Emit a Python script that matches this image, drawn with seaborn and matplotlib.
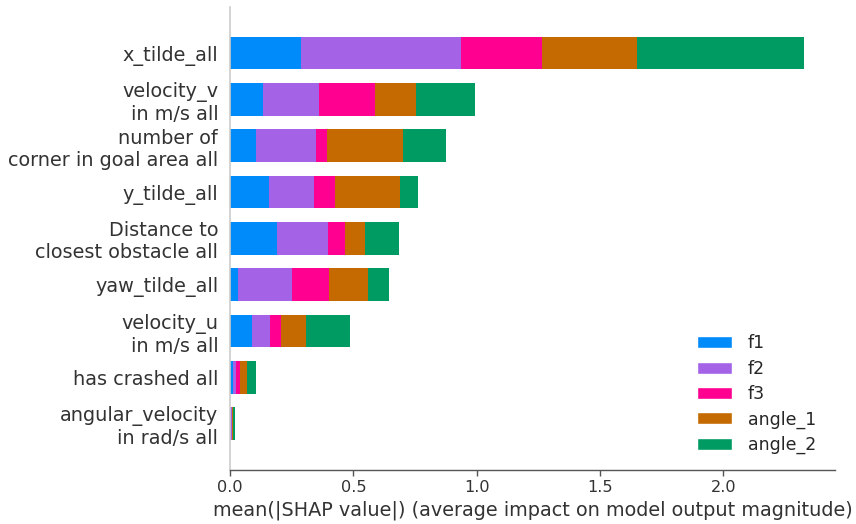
import numpy as np
import pandas as pd
import matplotlib
matplotlib.use("Agg")
import matplotlib.pyplot as plt
import seaborn as sns
from matplotlib.patches import Patch

features = [
    "x_tilde_all",
    "velocity_v\nin m/s all",
    "number of\ncorner in goal area all",
    "y_tilde_all",
    "Distance to\nclosest obstacle all",
    "yaw_tilde_all",
    "velocity_u\nin m/s all",
    "has crashed all",
    "angular_velocity\nin rad/s all",
]
outputs = ["f1", "f2", "f3", "angle_1", "angle_2"]

# mean(|SHAP|) per feature for each model output
f1 = [0.289, 0.134, 0.105, 0.158, 0.189, 0.031, 0.088, 0.011, 0.001]
f2 = [0.648, 0.228, 0.244, 0.182, 0.208, 0.219, 0.074, 0.013, 0.008]
f3 = [0.327, 0.227, 0.044, 0.084, 0.069, 0.151, 0.045, 0.017, 0.001]
angle_1 = [0.387, 0.165, 0.308, 0.265, 0.080, 0.157, 0.100, 0.029, 0.004]
angle_2 = [0.677, 0.239, 0.175, 0.074, 0.139, 0.088, 0.181, 0.035, 0.005]

colors = ["#008bfb", "#a463e6", "#ff0090", "#c46a00", "#009b62"]

values = np.array([f1, f2, f3, angle_1, angle_2])
cum = np.cumsum(values, axis=0)

sns.set_style("white")
plt.rcParams["font.family"] = ["DejaVu Sans"]

fig = plt.figure(figsize=(8.56, 5.24), dpi=100)
ax = fig.add_axes([230 / 856, 54 / 524, 605 / 856, 463.3 / 524])

# stacked bars: draw the largest cumulative segment first, then overlay smaller ones
for i in range(len(outputs) - 1, -1, -1):
    df = pd.DataFrame({"feature": features, "value": cum[i]})
    sns.barplot(data=df, x="value", y="feature", order=features, color=colors[i],
                saturation=1, width=0.7, orient="h", ax=ax, linewidth=0)

ax.set_xlim(0, 2.452)
ax.set_ylim(9.0, -1.0)
ax.set_ylabel("")
ax.set_xlabel("mean(|SHAP value|) (average impact on model output magnitude)",
              fontsize=13.9, color="#333333")

for s in ["top", "right"]:
    ax.spines[s].set_visible(False)
ax.spines["left"].set_color("#cccccc")
ax.spines["left"].set_linewidth(1.2)
ax.spines["bottom"].set_color("#555555")
ax.spines["bottom"].set_linewidth(1.0)

ax.tick_params(axis="y", length=0, pad=8.5, labelsize=13.85, labelcolor="#333333")
ax.tick_params(axis="x", length=4, width=1, color="#555555", labelsize=11.6,
               labelcolor="#333333", direction="out", bottom=True)
ax.set_xticks([0.0, 0.5, 1.0, 1.5, 2.0])
ax.set_xticklabels(["0.0", "0.5", "1.0", "1.5", "2.0"])

handles = [Patch(facecolor=c, label=l) for c, l in zip(colors, outputs)]
ax.legend(handles=handles, loc="lower right", frameon=False, fontsize=12.55,
          labelspacing=0.42, handletextpad=0.9, bbox_to_anchor=(0.995, 0.0))

fig.savefig("out.png", dpi=100)
